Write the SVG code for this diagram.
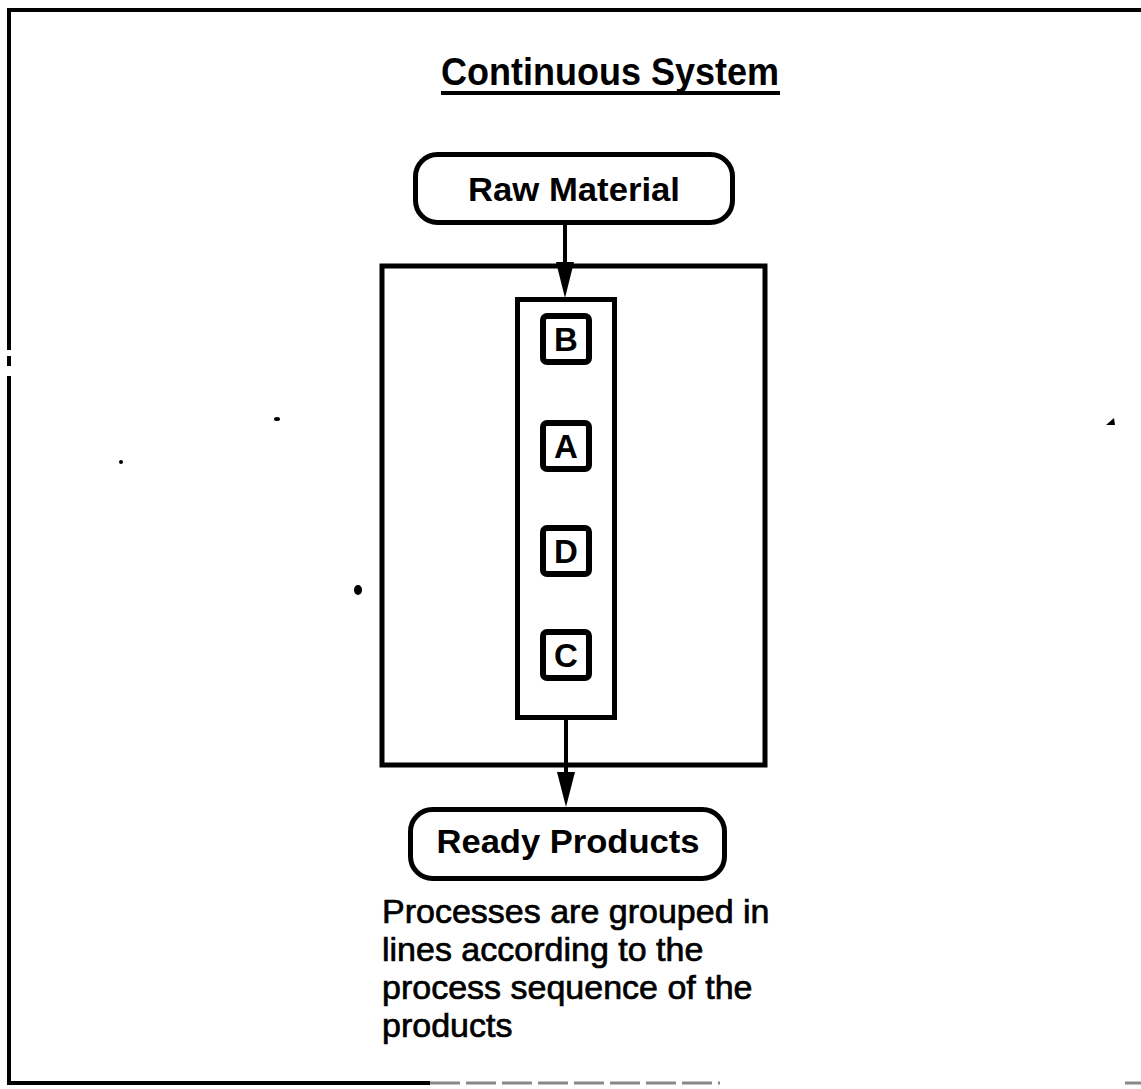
<svg xmlns="http://www.w3.org/2000/svg" width="1141" height="1089" viewBox="0 0 1141 1089">
<style>
.frame{fill:none;stroke:#000;stroke-width:4}
.box{fill:#fff;stroke:#000;stroke-width:5}
.pbox{fill:#fff;stroke:#000;stroke-width:6}
.lbl{font-family:"Liberation Sans",Arial,sans-serif;font-weight:bold;fill:#000;text-anchor:middle}
.body{font-family:"Liberation Sans",Arial,sans-serif;font-size:34px;fill:#000;stroke:#000;stroke-width:0.7}
.conn{stroke:#000;stroke-width:4;fill:none}
.head{fill:#000}
</style>
<rect width="1141" height="1089" fill="#fff"/>
<!-- page frame -->
<path class="frame" d="M1141,10 H9 V350"/>
<path class="frame" d="M9,376 V1083 H430"/>
<path d="M430,1083 H720" stroke="#888" stroke-width="3" stroke-dasharray="30,6"/>
<path d="M1125,1083 H1141" stroke="#888" stroke-width="3"/>
<rect x="7" y="356" width="4" height="10" fill="#000"/>
<!-- title -->
<g id="title">
<text class="lbl" x="610" y="85" font-size="38" textLength="338" lengthAdjust="spacingAndGlyphs">Continuous System</text>
<rect x="441" y="91" width="339" height="4" fill="#000"/>
</g>
<!-- outer group box -->
<g id="line-area">
<rect class="box" x="382" y="266" width="383" height="499"/>
</g>
<!-- process column -->
<g id="process-line">
<rect class="box" x="517.5" y="299.5" width="97" height="418"/>
</g>
<g id="node-B">
<rect class="pbox" x="543" y="316" width="46" height="46" rx="4"/>
<text class="lbl" x="566" y="351" font-size="33">B</text>
</g>
<g id="node-A">
<rect class="pbox" x="543" y="423" width="46" height="46" rx="4"/>
<text class="lbl" x="566" y="458" font-size="33">A</text>
</g>
<g id="node-D">
<rect class="pbox" x="543" y="528" width="46" height="46" rx="4"/>
<text class="lbl" x="566" y="563" font-size="33">D</text>
</g>
<g id="node-C">
<rect class="pbox" x="543" y="632" width="46" height="46" rx="4"/>
<text class="lbl" x="566" y="667" font-size="33">C</text>
</g>
<g id="raw-material">
<rect class="box" x="415.5" y="154.5" width="317" height="68" rx="22"/>
<text class="lbl" x="574" y="201" font-size="34" textLength="212" lengthAdjust="spacingAndGlyphs">Raw Material</text>
</g>
<g id="ready-products">
<rect class="box" x="410.5" y="809.5" width="314" height="69" rx="22"/>
<text class="lbl" x="568" y="853" font-size="33" textLength="263" lengthAdjust="spacingAndGlyphs">Ready Products</text>
</g>
<!-- connectors -->
<g id="connectors">
<line class="conn" x1="565" y1="225" x2="565" y2="264"/>
<polygon class="head" points="556,262 574,262 565,298"/>
<line class="conn" x1="566" y1="720" x2="566" y2="774"/>
<polygon class="head" points="557,772 575,772 566,807"/>
</g>
<!-- caption -->
<g id="caption">
<text class="body" x="382" y="923">Processes are grouped in</text>
<text class="body" x="382" y="961">lines according to the</text>
<text class="body" x="382" y="999">process sequence of the</text>
<text class="body" x="382" y="1037">products</text>
</g>
<!-- specks -->
<g id="specks" fill="#000">
<ellipse cx="277" cy="419" rx="3" ry="2"/>
<circle cx="121" cy="462" r="2"/>
<ellipse cx="358" cy="590" rx="4" ry="5"/>
<path d="M1106,425 L1114,418 L1115,425 Z"/>
</g>
</svg>
